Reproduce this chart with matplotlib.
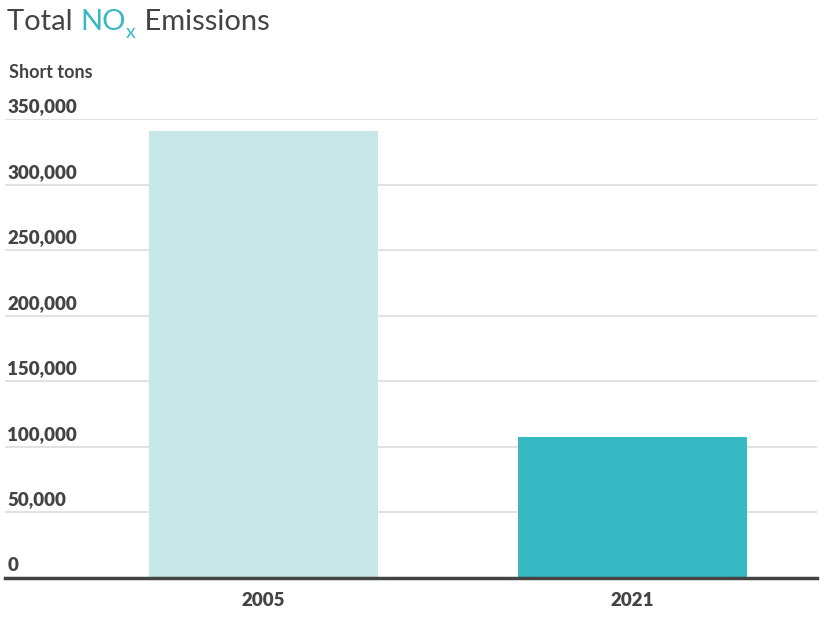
import matplotlib
matplotlib.use("Agg")
import matplotlib.pyplot as plt

# data
years = ['2005', '2021']
emissions = [341000, 107500]
bar_colors = ['#c8e7e9', '#36b9c3']
y_ticks = [0, 50000, 100000, 150000, 200000, 250000, 300000, 350000]

plt.rcParams['font.family'] = ['Lato', 'DejaVu Sans']
text_color = '#444444'
teal = '#36b9c3'

fig = plt.figure(figsize=(8.32, 6.18), dpi=100)
ax = fig.add_axes([5 / 832, 1 - 578 / 618, 812 / 832, (578 - 119) / 618])

x = range(len(years))
ax.bar(x, emissions, width=0.62, color=bar_colors, zorder=2)

ax.set_xlim(-0.7, 1.5)
ax.set_ylim(0, 350000)

# gridlines with labels sitting on top of them, left aligned
ax.set_yticks(y_ticks)
ax.yaxis.grid(True, color='#dddddd', linewidth=1.2, zorder=0)
ax.tick_params(axis='y', length=0, labelleft=False)
for t in y_ticks:
    ax.text(0.003, t + 3000, f'{t:,}', transform=ax.get_yaxis_transform(),
            ha='left', va='bottom', fontsize=13.5, fontweight=800, color=text_color)

ax.set_xticks(list(x))
ax.set_xticklabels(years, fontsize=13.5, fontweight=800, color=text_color)
ax.tick_params(axis='x', length=0, pad=10)

for side in ['top', 'right', 'left']:
    ax.spines[side].set_visible(False)
ax.spines['bottom'].set_color(text_color)
ax.spines['bottom'].set_linewidth(2.5)
ax.spines['bottom'].set_zorder(3)

# title in pieces so NOx can be coloured with a subscript x
t1 = fig.text(7 / 832, 1 - 30 / 618, 'Total ', fontsize=21, color=text_color,
              ha='left', va='baseline')
t2 = ax.annotate('NO', xy=(1, 0), xycoords=t1, fontsize=21, color=teal,
                 ha='left', va='bottom', annotation_clip=False)
ax.annotate('x', xy=(1, 0), xycoords=t2, xytext=(0.5, -4), textcoords='offset points',
            fontsize=14, color=teal, ha='left', va='bottom', annotation_clip=False)
ax.annotate(' Emissions', xy=(1, 0), xycoords=t2, xytext=(8, 0), textcoords='offset points',
            fontsize=21, color=text_color, ha='left', va='bottom', annotation_clip=False)

fig.text(9 / 832, 1 - 78 / 618, 'Short tons', fontsize=13, fontweight='bold',
         color=text_color, ha='left', va='baseline')

fig.savefig('out.png', dpi=100)
